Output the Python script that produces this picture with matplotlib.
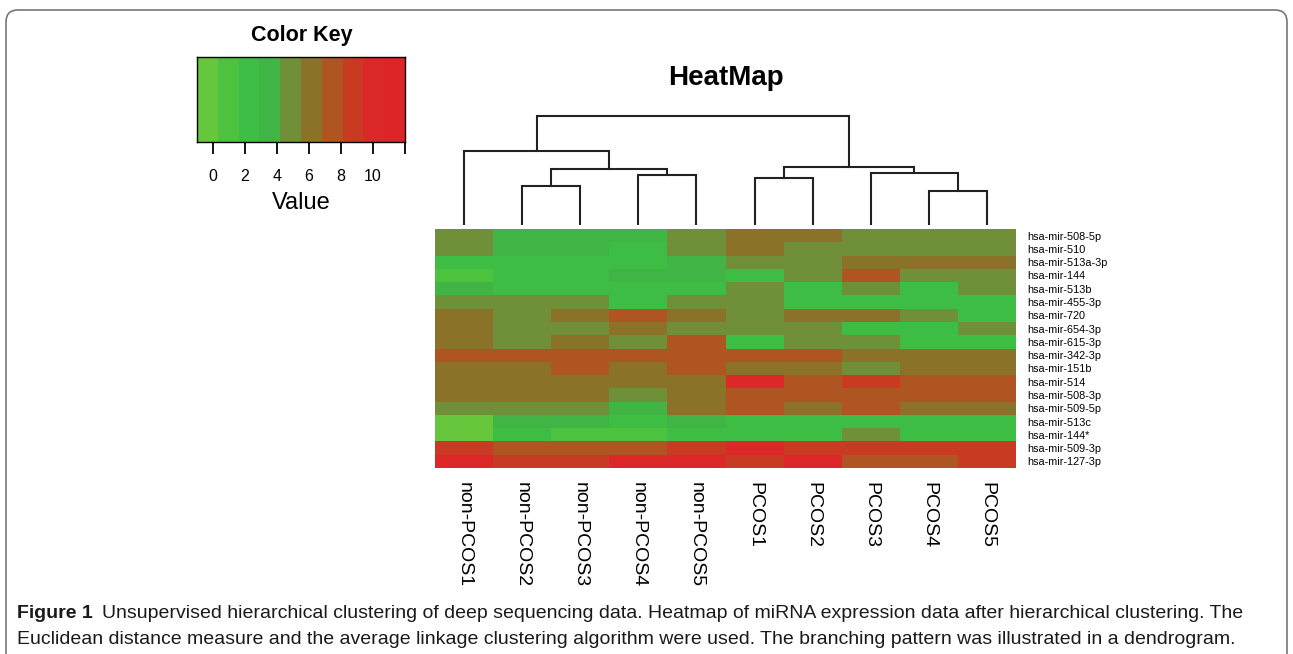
import numpy as np
import matplotlib
matplotlib.use('Agg')
from matplotlib import pyplot as plt
from matplotlib.colors import ListedColormap, BoundaryNorm
from matplotlib.patches import FancyBboxPatch
from matplotlib.transforms import IdentityTransform

plt.rcParams['font.family'] = ['Liberation Sans', 'DejaVu Sans']

samples = ['non-PCOS1', 'non-PCOS2', 'non-PCOS3', 'non-PCOS4', 'non-PCOS5',
           'PCOS1', 'PCOS2', 'PCOS3', 'PCOS4', 'PCOS5']

mirnas = ['hsa-mir-508-5p', 'hsa-mir-510', 'hsa-mir-513a-3p', 'hsa-mir-144',
          'hsa-mir-513b', 'hsa-mir-455-3p', 'hsa-mir-720', 'hsa-mir-654-3p',
          'hsa-mir-615-3p', 'hsa-mir-342-3p', 'hsa-mir-151b', 'hsa-mir-514',
          'hsa-mir-508-3p', 'hsa-mir-509-5p', 'hsa-mir-513c', 'hsa-mir-144*',
          'hsa-mir-509-3p', 'hsa-mir-127-3p']

# expression values (rows = miRNAs, cols = samples)
values = np.array([
    [4.9, 3.6, 3.6, 3.6, 4.9, 6.2, 6.2, 4.9, 4.9, 4.9],
    [4.9, 3.6, 3.6, 2.2, 4.9, 6.2, 4.9, 4.9, 4.9, 4.9],
    [2.2, 2.2, 2.2, 2.2, 3.6, 4.9, 4.9, 6.2, 6.2, 6.2],
    [1.0, 2.2, 2.2, 3.6, 3.6, 2.2, 4.9, 7.5, 4.9, 4.9],
    [3.6, 2.2, 2.2, 2.2, 2.2, 4.9, 2.2, 4.9, 2.2, 4.9],
    [4.9, 4.9, 4.9, 2.2, 4.9, 4.9, 2.2, 2.2, 2.2, 2.2],
    [6.2, 4.9, 6.2, 7.5, 6.2, 4.9, 6.2, 6.2, 4.9, 2.2],
    [6.2, 4.9, 4.9, 6.2, 4.9, 4.9, 4.9, 2.2, 2.2, 4.9],
    [6.2, 4.9, 6.2, 4.9, 7.5, 2.2, 4.9, 4.9, 2.2, 2.2],
    [7.5, 7.5, 7.5, 7.5, 7.5, 7.5, 7.5, 6.2, 6.2, 6.2],
    [6.2, 6.2, 7.5, 6.2, 7.5, 6.2, 6.2, 4.9, 6.2, 6.2],
    [6.2, 6.2, 6.2, 6.2, 6.2, 10.0, 7.5, 8.8, 7.5, 7.5],
    [6.2, 6.2, 6.2, 4.9, 6.2, 7.5, 7.5, 7.5, 7.5, 7.5],
    [4.9, 4.9, 4.9, 3.6, 6.2, 7.5, 6.2, 7.5, 6.2, 6.2],
    [-0.4, 3.6, 3.6, 2.2, 3.6, 2.2, 2.2, 2.2, 2.2, 2.2],
    [-0.4, 2.2, 1.0, 1.0, 2.2, 2.2, 2.2, 4.9, 2.2, 2.2],
    [8.8, 7.5, 7.5, 7.5, 8.8, 10.0, 8.8, 8.8, 8.8, 8.8],
    [10.0, 8.8, 8.8, 10.0, 10.0, 8.8, 10.0, 7.5, 7.5, 8.8],
])

# colour key: 10 bins between -1 and 12
key_edges = np.linspace(-1, 12, 11)
key_colors = ['#66c63c', '#4cc23e', '#3dbd43', '#40b545', '#6f8f38',
              '#8b7229', '#ae5521', '#c83b22', '#dc2828', '#dd2528']
key_ticks = [0, 2, 4, 6, 8, 10, 12]
key_ticklabels = ['0', '2', '4', '6', '8', '10', '']

# column dendrogram, scipy-style linkage: (left, right, height)
linkage = [
    (1, 2, 39),
    (3, 4, 50),
    (10, 11, 56),
    (0, 12, 74),
    (8, 9, 34),
    (5, 6, 47),
    (7, 14, 52),
    (15, 16, 58),
    (13, 17, 109),
]

cmap = ListedColormap(key_colors)
norm = BoundaryNorm(key_edges, cmap.N)

W, H = 1293, 654
fig = plt.figure(figsize=(W / 100, H / 100), dpi=100)

def px_axes(x0, y0, x1, y1):
    # axes from pixel box (top-left origin)
    return fig.add_axes([x0 / W, 1 - y1 / H, (x1 - x0) / W, (y1 - y0) / H])

# frame around the figure
frame = FancyBboxPatch((6, -30), 1281, 644 + 30, boxstyle='round,pad=0,rounding_size=12',
                       transform=IdentityTransform(), facecolor='none',
                       edgecolor='#777777', linewidth=1.2)
fig.patches.append(frame)

# heatmap
ax = px_axes(435, 229, 1016, 468)
ax.pcolormesh(np.arange(len(samples) + 1), np.arange(len(mirnas) + 1), values,
              cmap=cmap, norm=norm)
ax.set_xlim(0, len(samples))
ax.set_ylim(len(mirnas), 0)
for s in ax.spines.values():
    s.set_visible(False)
ax.set_xticks(np.arange(len(samples)) + 0.5)
ax.set_xticklabels(samples, rotation=-90, fontsize=14, va='top', ha='center')
ax.set_yticks(np.arange(len(mirnas)) + 0.5)
ax.set_yticklabels(mirnas, fontsize=7.8)
ax.yaxis.tick_right()
ax.tick_params(axis='y', length=0, pad=8)
ax.tick_params(axis='x', length=0, pad=10)

# dendrogram
dax = px_axes(435, 113, 1016, 225)
pos = {i: i + 0.5 for i in range(len(samples))}
hgt = {i: 0.0 for i in range(len(samples))}
for k, (a, b, h) in enumerate(linkage):
    node = len(samples) + k
    xa, xb = pos[a], pos[b]
    dax.plot([xa, xa, xb, xb], [hgt[a], h, h, hgt[b]], color='#222222', lw=1.5,
             solid_joinstyle='miter')
    pos[node] = (xa + xb) / 2
    hgt[node] = h
dax.set_xlim(0, len(samples))
dax.set_ylim(0, 112)
dax.axis('off')

fig.text(726, H - 78, 'HeatMap', fontsize=20, fontweight='bold',
         ha='center', va='center', transform=IdentityTransform())

# colour key
kax = px_axes(197, 57, 405, 142)
for i in range(len(key_colors)):
    kax.axvspan(key_edges[i], key_edges[i + 1], color=key_colors[i], lw=0)
kax.set_xlim(key_edges[0], key_edges[-1])
kax.set_yticks([])
kax.set_xticks(key_ticks)
kax.set_xticklabels(key_ticklabels, fontsize=11.5)
kax.tick_params(axis='x', length=8.5, width=1.3, pad=11)
for s in kax.spines.values():
    s.set_linewidth(1.0)
fig.text(302, H - 36, 'Color Key', fontsize=15.5, fontweight='bold',
         ha='center', va='center', transform=IdentityTransform())
fig.text(301, H - 203, 'Value', fontsize=17, ha='center', va='center',
         transform=IdentityTransform())

# caption
cap1 = ('Unsupervised hierarchical clustering of deep sequencing data. Heatmap of miRNA '
        'expression data after hierarchical clustering. The')
cap2 = ('Euclidean distance measure and the average linkage clustering algorithm were used. '
        'The branching pattern was illustrated in a dendrogram.')
t = fig.text(17, H - 613, 'Figure 1', fontsize=14, fontweight='bold', color='#1a1a1a',
             va='center', transform=IdentityTransform())
fig.canvas.draw()
bb = t.get_window_extent()
fig.text(bb.x1 + 9, H - 613, cap1, fontsize=14, color='#1a1a1a', va='center',
         transform=IdentityTransform())
fig.text(17, H - 639, cap2, fontsize=14, color='#1a1a1a', va='center',
         transform=IdentityTransform())

fig.savefig('out.png', dpi=100)
